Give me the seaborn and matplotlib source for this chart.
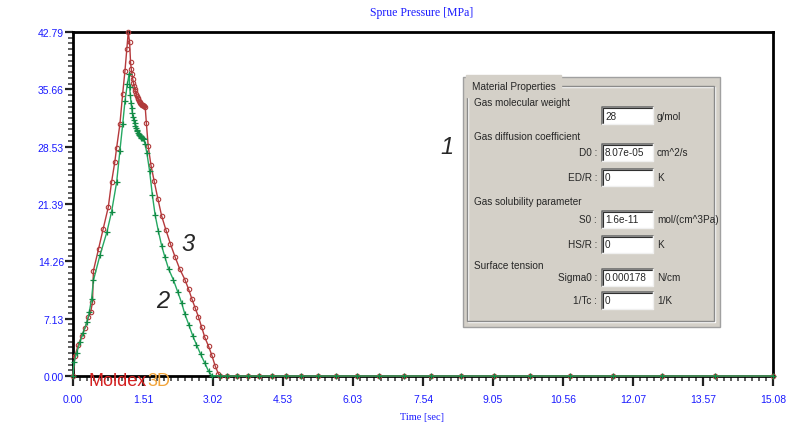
import numpy as np
import pandas as pd
import matplotlib
matplotlib.use("Agg")
import matplotlib.pyplot as plt
import seaborn as sns
from matplotlib.patches import Rectangle
from matplotlib.ticker import AutoMinorLocator

# Courbe 3 (rouge) : temps [s] et pression [MPa]
red_time = [0.00, 0.04, 0.11, 0.19, 0.26, 0.33, 0.38, 0.42, 0.44, 0.55, 0.65, 0.76,
            0.83, 0.90, 0.94, 1.01, 1.07, 1.12, 1.16, 1.19, 1.22, 1.24,
            1.255, 1.27, 1.285, 1.30, 1.315, 1.33, 1.345, 1.36, 1.375, 1.39, 1.405,
            1.42, 1.435, 1.45, 1.465, 1.48, 1.495, 1.51, 1.525, 1.54, 1.555,
            1.58, 1.62, 1.68, 1.75, 1.83, 1.91, 2.00, 2.10, 2.20, 2.30, 2.41, 2.49,
            2.56, 2.63, 2.70, 2.77, 2.84, 2.92, 2.99, 3.06, 3.13, 3.17,
            3.31, 3.53, 3.76, 4.01, 4.28, 4.59, 4.91, 5.27, 5.67, 6.11, 6.60, 7.13,
            7.71, 8.36, 9.07, 9.85, 10.71, 11.64, 12.69, 13.83, 15.08]
red_pressure = [0.0, 2.5, 3.8, 5.0, 6.0, 7.3, 7.9, 9.2, 13.1, 15.8, 18.3, 21.0,
                24.1, 26.6, 28.4, 31.3, 35.1, 38.0, 40.7, 42.79, 41.5, 39.0,
                38.2, 37.6, 37.0, 36.5, 36.1, 35.7, 35.4, 35.1, 34.85, 34.6, 34.4,
                34.25, 34.1, 33.95, 33.85, 33.75, 33.7, 33.65, 33.6, 33.55, 33.5,
                31.5, 28.6, 26.2, 24.2, 22.0, 19.9, 18.2, 16.4, 14.8, 13.3, 12.0, 10.8,
                9.6, 8.5, 7.4, 6.1, 4.8, 3.7, 2.6, 1.3, 0.3, 0.0,
                0, 0, 0, 0, 0, 0, 0, 0, 0, 0, 0, 0,
                0, 0, 0, 0, 0, 0, 0, 0, 0]

# Courbe 2 (verte)
green_time = [0.00, 0.02, 0.08, 0.15, 0.22, 0.30, 0.35, 0.40, 0.44, 0.58, 0.73, 0.83,
              0.94, 1.01, 1.07, 1.12, 1.17, 1.21,
              1.22, 1.235, 1.25, 1.265, 1.28, 1.295, 1.31, 1.325, 1.34, 1.355, 1.37,
              1.385, 1.40, 1.415, 1.43, 1.445, 1.46, 1.475, 1.49, 1.505, 1.52,
              1.55, 1.59, 1.65, 1.71, 1.77, 1.84, 1.91, 1.98, 2.06, 2.16, 2.26, 2.34,
              2.41, 2.50, 2.58, 2.66, 2.75, 2.84, 2.92, 2.99,
              3.17, 3.31, 3.53, 3.76, 4.01, 4.28, 4.59, 4.91, 5.27, 5.67, 6.11, 6.60,
              7.13, 7.71, 8.36, 9.07, 9.85, 10.71, 11.64, 12.69, 13.83, 15.08]
green_pressure = [0.0, 1.7, 2.9, 4.2, 5.4, 6.7, 7.9, 9.6, 11.9, 15.0, 17.9, 20.4,
                  24.1, 28.0, 31.3, 34.2, 36.3, 37.6,
                  36.0, 34.9, 34.0, 33.3, 32.7, 32.2, 31.8, 31.45, 31.15, 30.9, 30.65,
                  30.45, 30.25, 30.1, 29.95, 29.85, 29.75, 29.65, 29.6, 29.55, 29.5,
                  28.9, 27.8, 25.5, 22.5, 20.0, 18.0, 16.2, 14.8, 13.3, 12.0, 10.4, 9.1,
                  7.7, 6.3, 5.0, 3.9, 2.7, 1.6, 0.6, 0.05,
                  0, 0, 0, 0, 0, 0, 0, 0, 0, 0, 0, 0,
                  0, 0, 0, 0, 0, 0, 0, 0, 0, 0]

x_tick_labels = ["0.00", "1.51", "3.02", "4.53", "6.03", "7.54", "9.05",
                 "10.56", "12.07", "13.57", "15.08"]
y_tick_labels = ["0.00", "7.13", "14.26", "21.39", "28.53", "35.66", "42.79"]
x_max = 15.08
y_max = 42.79

# Panneau "Material Properties"
panel_sections = ["Gas molecular weight", "Gas diffusion coefficient",
                  "Gas solubility parameter", "Surface tension"]
field_names = ["", "D0 :", "ED/R :", "S0 :", "HS/R :", "Sigma0 :", "1/Tc :"]
field_values = ["28", "8.07e-05", "0", "1.6e-11", "0", "0.000178", "0"]
field_units = ["g/mol", "cm^2/s", "K", "mol/(cm^3Pa)", "K", "N/cm", "1/K"]

sns.set_style("white")
plt.rcParams["font.family"] = ["Liberation Sans", "DejaVu Sans"]

fig = plt.figure(figsize=(8, 4.35), dpi=100)
fig.patch.set_facecolor("white")
ax = fig.add_axes([73 / 800, 58 / 435, 700 / 800, 344 / 435])

red_df = pd.DataFrame({"t": red_time, "p": red_pressure})
green_df = pd.DataFrame({"t": green_time, "p": green_pressure})

sns.lineplot(data=red_df, x="t", y="p", ax=ax, sort=False, estimator=None,
             color="#b5393c", lw=1.0, marker="o", markersize=3.2,
             markerfacecolor="none", markeredgecolor="#b03a3a",
             markeredgewidth=0.8, clip_on=False, zorder=3)
sns.lineplot(data=green_df, x="t", y="p", ax=ax, sort=False, estimator=None,
             color="#25a862", lw=1.0, marker="+", markersize=3.8,
             markeredgecolor="#128a45", markeredgewidth=0.9,
             clip_on=False, zorder=4)

ax.set_xlim(0, x_max)
ax.set_ylim(0, y_max)
ax.set_xticks(np.linspace(0, x_max, len(x_tick_labels)))
ax.set_xticklabels(x_tick_labels)
ax.set_yticks(np.linspace(0, y_max, len(y_tick_labels)))
ax.set_yticklabels(y_tick_labels)
ax.xaxis.set_minor_locator(AutoMinorLocator(10))
ax.yaxis.set_minor_locator(AutoMinorLocator(10))
ax.tick_params(which="major", direction="out", width=1.6,
               color="#222222", labelcolor="#1a1aff", labelsize=7.5,
               bottom=True, left=True)
ax.tick_params(axis="x", which="major", length=7, pad=6)
ax.tick_params(axis="y", which="major", length=5.5, pad=1)
ax.tick_params(which="minor", direction="out", length=3.8, width=1.2,
               color="#444444", bottom=True, left=True)
ax.set_xlabel("")
ax.set_ylabel("")
for side in ["left", "top", "right", "bottom"]:
    ax.spines[side].set_visible(True)
    ax.spines[side].set_color("black")
    ax.spines[side].set_linewidth(2)

fig.text(422 / 800, 1 - 13 / 435, "Sprue Pressure [MPa]", ha="center",
         va="center", color="#1a1aff", fontsize=8.5, family="Liberation Serif")
fig.text(422 / 800, 1 - 418 / 435, "Time [sec]", ha="center", va="center",
         color="#1a1aff", fontsize=7.5, family="Liberation Serif")

# calque en coordonnées pixels pour le panneau, le logo et les numéros
ov = fig.add_axes([0, 0, 1, 1], zorder=10)
ov.set_xlim(0, 800)
ov.set_ylim(435, 0)
ov.axis("off")
ov.patch.set_alpha(0)

ov.text(163, 302, "2", fontsize=17, style="italic", ha="center", va="center")
ov.text(188, 245, "3", fontsize=17, style="italic", ha="center", va="center")
ov.text(447, 148, "1", fontsize=17, style="italic", ha="center", va="center")

ov.text(89, 382, "Moldex", color="#d42222", fontsize=13, ha="left",
        va="center")
ov.text(147, 382, "3D", color="#f2a43a", fontsize=13, ha="left",
        va="center")

# panneau gris
ov.add_patch(Rectangle((463, 78), 257, 250, facecolor="#d4d0c8",
                       edgecolor="#a0a0a0", lw=1))
ov.add_patch(Rectangle((467.5, 87.5), 247, 235, facecolor="none",
                       edgecolor="white", lw=1))
ov.add_patch(Rectangle((467, 87), 247, 235, facecolor="none",
                       edgecolor="#8a8a8a", lw=1))
ov.text(472, 87, "Material Properties", fontsize=7.2, ha="left", va="center",
        backgroundcolor="#d4d0c8")

section_y = [103, 137, 202, 266]
for name, y in zip(panel_sections, section_y):
    ov.text(474, y, name, fontsize=7.2, ha="left", va="center")

box_top = [108, 145, 170, 212, 237, 270, 293]
for name, val, unit, top in zip(field_names, field_values, field_units, box_top):
    ov.add_patch(Rectangle((602, top), 51, 17, facecolor="white",
                           edgecolor="none"))
    ov.plot([602, 602, 653], [top + 17, top, top], color="#707070", lw=1.2)
    ov.plot([603, 603, 652], [top + 16, top + 1, top + 1], color="#303030",
            lw=0.8)
    ov.plot([602, 653, 653], [top + 17, top + 17, top], color="#f0f0f0", lw=1)
    ov.text(605, top + 8.5, val, fontsize=7.2, ha="left", va="center")
    ov.text(657, top + 8.5, unit, fontsize=7.2, ha="left", va="center")
    if name:
        ov.text(597, top + 8.5, name, fontsize=7.2, ha="right", va="center")

fig.savefig("out.png", dpi=100, facecolor="white")
